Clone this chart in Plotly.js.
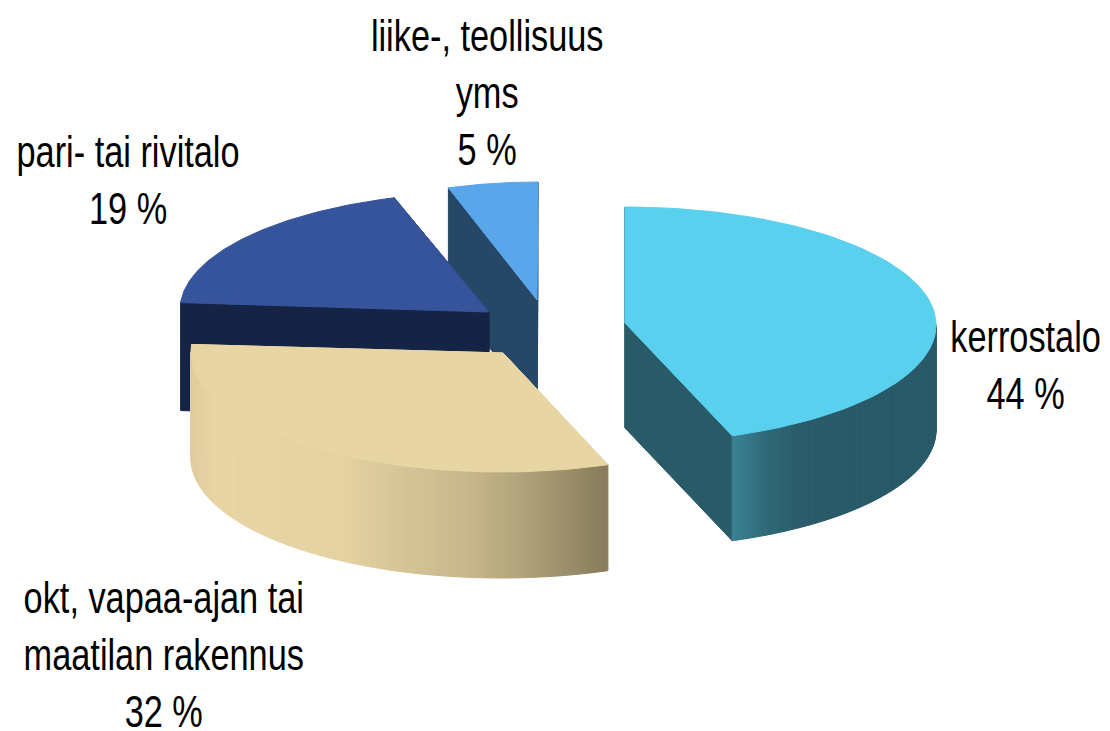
<!DOCTYPE html>
<html><head><meta charset="utf-8">
<script src="https://cdn.plot.ly/plotly-3.0.1.min.js"></script>
<style>html,body{margin:0;padding:0;background:#fff}#c{width:1110px;height:731px}</style>
</head><body><div id="c"></div>
<script>
// data
const categories = ['kerrostalo', 'okt, vapaa-ajan tai<br>maatilan rakennus', 'pari- tai rivitalo', 'liike-, teollisuus<br>yms'];
const shares = [44.4, 31.6, 19, 5];

// drawing style of each slice (pixel-space projection of the tilted, exploded pie)
const centerX = [625, 501, 490, 538];
const centerY = [325, 352, 310, 300];
const apexX   = [625, 503, 489, 537];
const apexY   = [323, 353, 312, 300];
const radiusX = [311, 310, 310, 290];
const radiusY = [118, 120, 118, 118];
const depth   = [105, 106, 108, 108];
const topColor  = ['#59d0ee', '#e8d5a4', '#36549c', '#5aa6ea'];
const faceColor = ['#285a68', '#e8d5a4', '#152444', '#264866'];
const wallStops = [
  [[733,'#3a8094'],[770,'#2e6775'],[800,'#2a5c69'],[830,'#285a68'],[940,'#285a68']],
  [[191,'#e0cc9e'],[215,'#e8d5a4'],[340,'#e5d2a2'],[400,'#d6c597'],[470,'#c6b68b'],[530,'#ada078'],[607,'#877b5c']],
  [[0,'#152444'],[1110,'#152444']],
  [[0,'#264866'],[1110,'#264866']]
];
const labelX = [1025, 164, 128, 487];
const labelY = [365, 654, 180, 92];
const drawOrder = [3, 2, 1, 0];
const labelSqueeze = 0.78;

const rad = d => d * Math.PI / 180;
const total = shares.reduce((a, b) => a + b, 0);
let acc = 0;
const startAngle = [], endAngle = [];
shares.forEach(v => { startAngle.push(acc / total * 360); acc += v; endAngle.push(acc / total * 360); });

const px = (i, a) => centerX[i] + radiusX[i] * Math.sin(rad(a));
const py = (i, a) => centerY[i] - radiusY[i] * Math.cos(rad(a));
function hex(c){return [1,3,5].map(k=>parseInt(c.substr(k,2),16));}
function colorAt(stops, x){
  if (x <= stops[0][0]) return stops[0][1];
  for (let k = 1; k < stops.length; k++) if (x <= stops[k][0]) {
    const t = (x - stops[k-1][0]) / (stops[k][0] - stops[k-1][0]);
    const A = hex(stops[k-1][1]), B = hex(stops[k][1]);
    return 'rgb(' + A.map((v, j) => Math.round(v + (B[j] - v) * t)).join(',') + ')';
  }
  return stops[stops.length-1][1];
}
function poly(x, y, color){
  return {type:'scatter', mode:'lines', x:x.concat([x[0]]), y:y.concat([y[0]]), fill:'toself',
    fillcolor:color, line:{color:color, width:1}, hoverinfo:'skip', showlegend:false};
}

const traces = [];
drawOrder.forEach(i => {
  const a0 = startAngle[i], a1 = endAngle[i], d = depth[i];
  // cut faces
  [a0, a1].forEach(a => {
    const ex = px(i, a), ey = py(i, a);
    traces.push(poly([apexX[i], ex, ex, apexX[i]], [apexY[i], ey, ey + d, apexY[i] + d], faceColor[i]));
  });
  // outer wall strips (front half only)
  const wa0 = Math.max(a0, 90), wa1 = Math.min(a1, 270), step = 1;
  for (let a = wa0; a < wa1; a += step) {
    const b = Math.min(a + step, wa1);
    const xa = px(i, a), xb = px(i, b), ya = py(i, a), yb = py(i, b);
    traces.push(poly([xa, xb, xb, xa], [ya, yb, yb + d, ya + d], colorAt(wallStops[i], (xa + xb) / 2)));
  }
  // top surface
  const tx = [apexX[i]], ty = [apexY[i]];
  for (let a = a0; a <= a1 + 1e-6; a += (a1 - a0) / 80) { tx.push(px(i, a)); ty.push(py(i, a)); }
  traces.push(poly(tx, ty, topColor[i]));
});

const annotations = categories.map((c, i) => ({
  x: labelX[i], y: labelY[i], xref:'x', yref:'y', showarrow:false, xanchor:'center', yanchor:'middle', align:'center',
  text: c + '<br>' + Math.round(shares[i]) + ' %',
  font:{family:'"Liberation Sans",Arial,sans-serif', size:44, color:'#000'}
}));

Plotly.newPlot('c', traces, {
  width:1110, height:731, margin:{l:0,r:0,t:0,b:0}, paper_bgcolor:'#fff', plot_bgcolor:'#fff',
  showlegend:false,
  xaxis:{range:[0,1110], visible:false, fixedrange:true},
  yaxis:{range:[731,0], visible:false, fixedrange:true},
  annotations
}, {displayModeBar:false, staticPlot:true}).then(gd => {
  // the reference's labels are horizontally squeezed
  gd.querySelectorAll('.annotation-text').forEach(t => {
    const b = t.getBBox(), cx = b.x + b.width / 2;
    t.setAttribute('transform', `translate(${cx},0) scale(${labelSqueeze},1) translate(${-cx},0)`);
  });
});
</script></body></html>
